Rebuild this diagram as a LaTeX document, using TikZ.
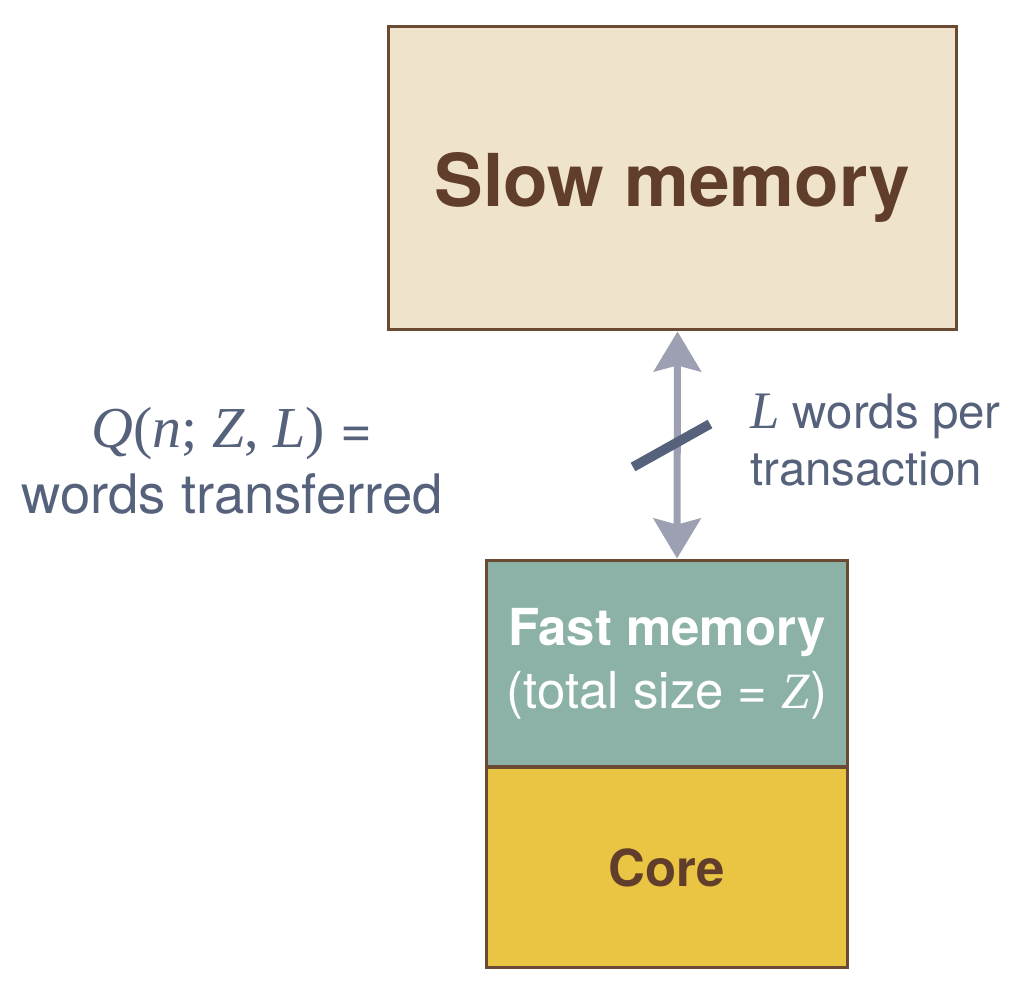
\documentclass[tikz,border=0pt]{standalone}
\usepackage{fontspec}
\setmainfont{TeX Gyre Heros}
\newfontfamily\qfont{Liberation Serif}
\usetikzlibrary{arrows.meta}
\definecolor{slowfill}{HTML}{EFE3CB}
\definecolor{boxline}{HTML}{6B4A33}
\definecolor{brownink}{HTML}{613D2B}
\definecolor{fastfill}{HTML}{8CB2A8}
\definecolor{corefill}{HTML}{EAC544}
\definecolor{slateink}{HTML}{56617B}
\definecolor{xferink}{HTML}{9DA0B2}
\tikzset{
  membox/.style={draw=boxline,line width=1.7pt,inner sep=0pt},
  xfer/.style={xferink,line width=4pt,{Stealth[inset=1.2mm,length=8mm,width=9.4mm]}-{Stealth[inset=1.2mm,length=8mm,width=9.4mm]}}
}
\newcommand{\mi}[1]{{\qfont\itshape #1}}
\begin{document}
\begin{tikzpicture}[x=0.02cm,y=-0.02cm]
\useasboundingbox (0,0) rectangle (1015,993);

\node[membox,fill=slowfill,minimum width=11.38cm,minimum height=6.08cm,
  text=brownink,font=\fontsize{41.5}{48}\selectfont\bfseries] (slow) at (672.5,178) {\raisebox{-16pt}[0pt][0pt]{Slow memory}};
\node[membox,fill=fastfill,minimum width=7.24cm,minimum height=4.14cm,
  text=white,align=center,font=\fontsize{29}{36}\selectfont] (fast) at (667,663.5)
  {{\bfseries Fast memory}\\(total size = \mi{Z})};
\node[membox,fill=corefill,minimum width=7.24cm,minimum height=4.02cm,
  text=brownink,font=\fontsize{29}{35}\selectfont\bfseries] (core) at (667,867.5) {Core};

\draw[xfer] ([xshift=0.1cm]slow.south) -- ([xshift=0.2cm]fast.north);
\draw[slateink,line width=5.5pt] (633,467) -- (710,424);

\node[text=slateink,align=center,font=\fontsize{31}{37.5}\selectfont] (qlabel) at (232,461)
  {{\qfont\fontsize{33}{37.5}\selectfont\itshape Q\upshape(\itshape n\upshape; \itshape Z\upshape, \itshape L\upshape)} =\\words transferred};
\node[text=slateink,anchor=west,align=left,inner sep=0pt,font=\fontsize{27}{32}\selectfont] (llabel) at (750,440)
  {{\qfont\fontsize{30}{32}\selectfont\itshape L} words per\\transaction};
\end{tikzpicture}
\end{document}
